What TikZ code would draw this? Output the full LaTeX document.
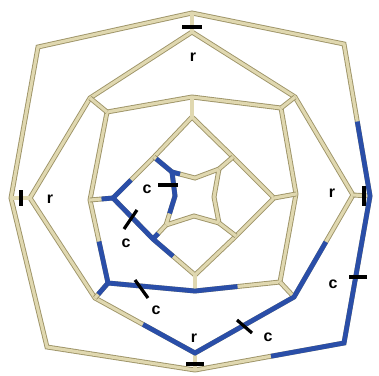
\documentclass[tikz,border=0pt]{standalone}
\usepackage{fontspec}
\setmainfont{Liberation Sans}
\usetikzlibrary{calc}
\definecolor{edgefill}{RGB}{224,216,176}
\definecolor{edgeline}{RGB}{158,148,104}
\definecolor{edgeblue}{RGB}{42,78,168}

\begin{document}
\begin{tikzpicture}[
  x=1pt, y=-1pt,
  rod/.style={draw=edgeline, line width=0.9pt, double=edgefill, double distance=3.1pt},
  bluerod/.style={draw=edgeblue, line width=4.8pt},
  tickmark/.style={draw=black, line width=3.2pt},
  lbl/.style={font=\fontsize{16}{16}\selectfont\bfseries, inner sep=0pt}
]
\fill[white] (0,0) rectangle (379,375);
\useasboundingbox (0,0) rectangle (379,375);

\coordinate (o1) at (192,13);
\coordinate (o2) at (344,44);
\coordinate (o3) at (370,196);
\coordinate (o4) at (344,343);
\coordinate (o5) at (195,370);
\coordinate (o6) at (47,347);
\coordinate (o7) at (11,198);
\coordinate (o8) at (38,47);

\coordinate (m1) at (192,32);
\coordinate (m2) at (295,97);
\coordinate (m3) at (353,195);
\coordinate (m4) at (294,297);
\coordinate (m5) at (195,353);
\coordinate (m6) at (95,298);
\coordinate (m7) at (30,198);
\coordinate (m8) at (90,98);

\coordinate (n1) at (192,97);
\coordinate (n2) at (281,108);
\coordinate (n3) at (296,194);
\coordinate (n4) at (280,282);
\coordinate (n5) at (195,291);
\coordinate (n6) at (108,283);
\coordinate (n7) at (90,200);
\coordinate (n8) at (107,112);

\coordinate (q1) at (192,117);
\coordinate (q2) at (233,157);
\coordinate (q3) at (274,198);
\coordinate (q4) at (236,236);
\coordinate (q5) at (195,275);
\coordinate (q6) at (153,239);
\coordinate (q7) at (113,198);
\coordinate (q8) at (154,157);

\coordinate (s1) at (172,172);
\coordinate (s2) at (195,178);
\coordinate (s3) at (219,169);
\coordinate (s4) at (214,197);
\coordinate (s5) at (219,223);
\coordinate (s6) at (194,216);
\coordinate (s7) at (166,225);
\coordinate (s8) at (175,196);

\draw[rod] (o1) -- (o2) -- (o3) -- (o4) -- (o5) -- (o6) -- (o7) -- (o8) -- cycle;
\draw[rod] (m1) -- (m2) -- (m3) -- (m4) -- (m5) -- (m6) -- (m7) -- (m8) -- cycle;
\draw[rod] (n1) -- (n2) -- (n3) -- (n4) -- (n5) -- (n6) -- (n7) -- (n8) -- cycle;
\draw[rod] (q1) -- (q2) -- (q3) -- (q4) -- (q5) -- (q6) -- (q7) -- (q8) -- cycle;
\draw[rod] (s1) -- (s2) -- (s3) -- (s4) -- (s5) -- (s6) -- (s7) -- (s8) -- cycle;

\draw[rod] (o1) -- (m1);
\draw[rod] (o3) -- (m3);
\draw[rod] (o5) -- (m5);
\draw[rod] (o7) -- (m7);
\draw[rod] (m2) -- (n2);
\draw[rod] (m4) -- (n4);
\draw[rod] (m6) -- (n6);
\draw[rod] (m8) -- (n8);
\draw[rod] (n1) -- (q1);
\draw[rod] (n3) -- (q3);
\draw[rod] (n5) -- (q5);
\draw[rod] (n7) -- (q7);
\draw[rod] (q2) -- (s3);
\draw[rod] (q4) -- (s5);
\draw[rod] (q6) -- (s7);
\draw[rod] (q8) -- (s1);

\coordinate (b1) at ($(o2)!0.51!(o3)$);
\coordinate (b2) at ($(o4)!0.49!(o5)$);
\coordinate (b3) at ($(m3)!0.46!(m4)$);
\coordinate (b4) at ($(m5)!0.52!(m6)$);
\coordinate (b5) at ($(n7)!0.5!(n6)$);
\coordinate (b6) at ($(n5)!0.5!(n4)$);
\coordinate (b7) at ($(n6)!0.75!(m6)$);
\coordinate (b8) at ($(n7)!0.5!(q7)$);
\coordinate (b9) at ($(q7)!0.44!(q8)$);
\coordinate (b10) at ($(q6)!0.48!(q5)$);
\coordinate (b11) at ($(q6)!0.4!(s7)$);
\coordinate (b12) at ($(s1)!0.35!(s2)$);
\coordinate (b13) at ($(s8)!0.6!(s7)$);
\coordinate (b14) at ($(q8)!0.12!(s1)$);

\draw[bluerod] (b1) -- (o3) -- (o4) -- (b2);
\draw[bluerod] (b3) -- (m4) -- (m5) -- (b4);
\draw[bluerod] (b5) -- (n6) -- (n5) -- (b6);
\draw[bluerod] (n6) -- (b7);
\draw[bluerod] (b8) -- (q7) -- (b9);
\draw[bluerod] (q7) -- (q6) -- (b10);
\draw[bluerod] (q6) -- (b11);
\draw[bluerod] (b14) -- (s1) -- (b12);
\draw[bluerod] (s1) -- (s8) -- (b13);

\draw[tickmark] (182,27) -- (202,27);
\draw[tickmark] (21,190) -- (21,206);
\draw[tickmark] (364,186) -- (364,206);
\draw[tickmark] (186,364) -- (204,364);
\draw[tickmark] (158,185) -- (178,185);
\draw[tickmark] (137,210) -- (124,229);
\draw[tickmark] (135,280) -- (148,298);
\draw[tickmark] (237,320) -- (252,333);
\draw[tickmark] (349,277) -- (367,277);

\node[lbl] (rtop) at (193,57) {r};
\node[lbl] (rleft) at (50,199) {r};
\node[lbl] (rright) at (332,193) {r};
\node[lbl] (rbottom) at (194,338) {r};
\node[lbl] (cstar) at (147,189) {c};
\node[lbl] (cinner) at (126,243) {c};
\node[lbl] (cmiddle) at (156,310) {c};
\node[lbl] (couter) at (268,337) {c};
\node[lbl] (cright) at (333,284) {c};
\end{tikzpicture}
\end{document}
